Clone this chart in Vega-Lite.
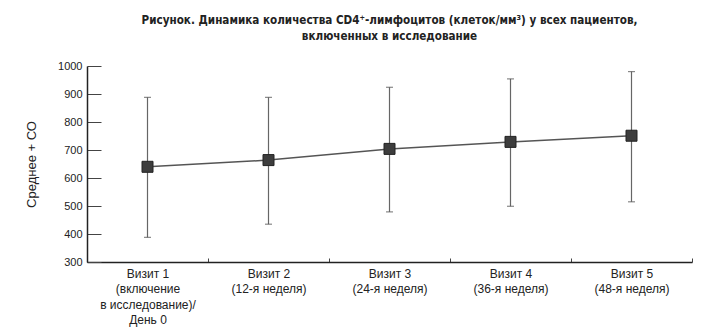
{
  "$schema": "https://vega.github.io/schema/vega-lite/v6.json",
  "autosize": "none",
  "width": 605,
  "height": 196,
  "padding": {"left": 87, "top": 66, "right": 28, "bottom": 74},
  "background": "white",
  "title": {
    "text": ["Рисунок.  Динамика количества CD4⁺-лимфоцитов (клеток/мм³) у всех пациентов,", "включенных в исследование"],
    "font": "DejaVu Sans Condensed, Roboto",
    "fontSize": 11.6,
    "fontWeight": "bold",
    "color": "#222",
    "anchor": "middle",
    "lineHeight": 16,
    "offset": 17
  },
  "data": {
    "values": [
      {"visit": "Визит 1|(включение|в исследование)/|День 0", "mean": 640, "lo": 388, "hi": 888},
      {"visit": "Визит 2|(12-я неделя)", "mean": 664, "lo": 435, "hi": 888},
      {"visit": "Визит 3|(24-я неделя)", "mean": 704, "lo": 479, "hi": 924},
      {"visit": "Визит 4|(36-я неделя)", "mean": 729, "lo": 499, "hi": 954},
      {"visit": "Визит 5|(48-я неделя)", "mean": 751, "lo": 515, "hi": 980}
    ]
  },
  "encoding": {
    "x": {
      "field": "visit", "type": "nominal", "sort": null,
      "scale": {"paddingInner": 0, "paddingOuter": 0},
      "axis": {
        "title": null, "labelAngle": 0, "labelExpr": "split(datum.label, '|')",
        "labelFont": "Liberation Sans", "labelFontSize": 12, "labelColor": "#222",
        "labelLineHeight": 15.5, "labelPadding": 10, "labelOverlap": false,
        "tickBand": "extent", "tickSize": -4, "tickColor": "#444", "tickWidth": 1,
        "domainColor": "#222", "domainWidth": 1.5
      }
    }
  },
  "layer": [
    {
      "mark": {"type": "rule", "color": "#666", "strokeWidth": 1.2},
      "encoding": {
        "y": {"field": "lo", "type": "quantitative", "title": "Среднее + СО",
              "scale": {"domain": [300, 1000], "nice": false, "zero": false},
              "axis": {"format": "d"}},
        "y2": {"field": "hi"}
      }
    },
    {
      "mark": {"type": "tick", "color": "#555", "size": 7, "thickness": 1.2, "orient": "horizontal"},
      "encoding": {"y": {"field": "lo", "type": "quantitative", "title": "Среднее + СО", "axis": {"format": "d"}}}
    },
    {
      "mark": {"type": "tick", "color": "#555", "size": 7, "thickness": 1.2, "orient": "horizontal"},
      "encoding": {"y": {"field": "hi", "type": "quantitative", "title": "Среднее + СО", "axis": {"format": "d"}}}
    },
    {
      "mark": {"type": "line", "color": "#555", "strokeWidth": 1.5},
      "encoding": {"y": {"field": "mean", "type": "quantitative", "title": "Среднее + СО", "axis": {"format": "d"}}}
    },
    {
      "mark": {"type": "point", "shape": "square", "filled": true, "size": 121, "color": "#3d3d3d", "stroke": "#222", "strokeWidth": 1, "opacity": 1},
      "encoding": {"y": {"field": "mean", "type": "quantitative", "title": "Среднее + СО", "axis": {"format": "d"}}}
    }
  ],
  "config": {
    "view": {"stroke": null},
    "axisY": {
      "titleFont": "Liberation Sans", "titleFontSize": 13,
      "titleFontWeight": "normal", "titleColor": "#222", "titlePadding": 19,
      "tickCount": 7,
      "grid": false, "labelOverlap": false,
      "labelFont": "Liberation Sans", "labelFontSize": 11, "labelColor": "#222",
      "labelPadding": 19,
      "tickSize": -14, "tickColor": "#444", "tickWidth": 1,
      "domainColor": "#222", "domainWidth": 1.5
    }
  }
}
